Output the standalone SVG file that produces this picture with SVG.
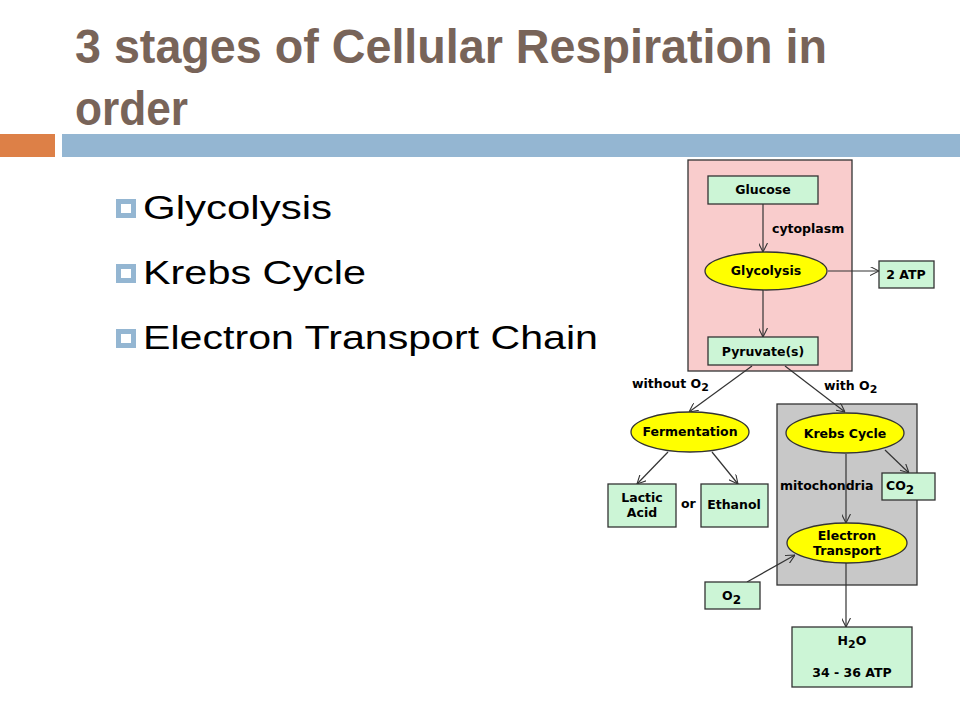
<svg xmlns="http://www.w3.org/2000/svg" width="960" height="720" viewBox="0 0 960 720">
<style>
.title{font-family:"Liberation Sans",Arial,sans-serif;font-weight:bold;font-size:49px;fill:#786459}
.bul{font-family:"Liberation Sans",Arial,sans-serif;font-size:33px;fill:#000}
.lbl{font-family:"DejaVu Sans","Liberation Sans",sans-serif;font-weight:bold;font-size:12.5px;fill:#000}
.box{fill:#ccf5d6;stroke:#333;stroke-width:1.3}
.ell{fill:#ffff00;stroke:#333;stroke-width:1.3}
.con{stroke:#333;stroke-width:1.2;fill:none}
</style>
<defs>
<marker id="v" viewBox="0 0 10 10" refX="10" refY="5" markerWidth="9" markerHeight="9" markerUnits="userSpaceOnUse" orient="auto">
<path d="M0,0 L10,5 L0,10" fill="none" stroke="#333" stroke-width="1.2"/>
</marker>
</defs>
<rect width="960" height="720" fill="#fff"/>
<g id="title">
<text class="title" x="75" y="63" textLength="752" lengthAdjust="spacingAndGlyphs">3 stages of Cellular Respiration in</text>
<text class="title" x="75" y="125" textLength="113" lengthAdjust="spacingAndGlyphs">order</text>
</g>
<g id="bars">
<rect x="0" y="134" width="55" height="23" fill="#dd8047"/>
<rect x="62" y="134" width="898" height="23" fill="#94b6d2"/>
</g>
<g id="bullets">
<rect x="116" y="199" width="20" height="19" fill="#94b6d2"/><rect x="121" y="204" width="10" height="9" fill="#fff"/>
<text class="bul" x="143" y="219" textLength="189" lengthAdjust="spacingAndGlyphs">Glycolysis</text>
<rect x="116" y="264" width="20" height="19" fill="#94b6d2"/><rect x="121" y="269" width="10" height="9" fill="#fff"/>
<text class="bul" x="143" y="284" textLength="223" lengthAdjust="spacingAndGlyphs">Krebs Cycle</text>
<rect x="116" y="329" width="20" height="19" fill="#94b6d2"/><rect x="121" y="334" width="10" height="9" fill="#fff"/>
<text class="bul" x="143" y="349" textLength="455" lengthAdjust="spacingAndGlyphs">Electron Transport Chain</text>
</g>
<g id="cytoplasm-region"><rect x="688" y="160" width="164" height="211" fill="#f9cccc" stroke="#333" stroke-width="1.3"/></g>
<g id="mitochondria-region"><rect x="777" y="404" width="140" height="181" fill="#c8c8c8" stroke="#333" stroke-width="1.3"/></g>
<g id="connectors">
<line class="con" x1="763" y1="204" x2="763" y2="252" marker-end="url(#v)"/>
<line class="con" x1="828" y1="271" x2="879" y2="271" marker-end="url(#v)"/>
<line class="con" x1="763" y1="290" x2="763" y2="337" marker-end="url(#v)"/>
<line class="con" x1="752" y1="366" x2="689" y2="412" marker-end="url(#v)"/>
<line class="con" x1="785" y1="366" x2="845" y2="412" marker-end="url(#v)"/>
<line class="con" x1="668" y1="452" x2="637" y2="484" marker-end="url(#v)"/>
<line class="con" x1="712" y1="452" x2="738" y2="484" marker-end="url(#v)"/>
<line class="con" x1="885" y1="450" x2="909" y2="473" marker-end="url(#v)"/>
<line class="con" x1="846" y1="454" x2="846" y2="523" marker-end="url(#v)"/>
<line class="con" x1="747" y1="582" x2="795" y2="555" marker-end="url(#v)"/>
<line class="con" x1="846" y1="563" x2="846" y2="627" marker-end="url(#v)"/>
</g>
<g id="labels">
<text class="lbl" x="772" y="233">cytoplasm</text>
<text class="lbl" x="632" y="388">without O<tspan font-size="11" dy="3">2</tspan></text>
<text class="lbl" x="824" y="390">with O<tspan font-size="11" dy="3">2</tspan></text>
<text class="lbl" x="780" y="490">mitochondria</text>
<text class="lbl" x="681" y="508">or</text>
</g>
<g id="glucose"><rect class="box" x="708" y="176" width="110" height="28"/><text class="lbl" x="763" y="194" text-anchor="middle">Glucose</text></g>
<g id="glycolysis"><ellipse class="ell" cx="766" cy="271" rx="61" ry="19"/><text class="lbl" x="766" y="275" text-anchor="middle">Glycolysis</text></g>
<g id="atp2"><rect class="box" x="879" y="261" width="55" height="27"/><text class="lbl" x="906" y="279" text-anchor="middle">2 ATP</text></g>
<g id="pyruvate"><rect class="box" x="708" y="337" width="110" height="28"/><text class="lbl" x="763" y="356" text-anchor="middle">Pyruvate(s)</text></g>
<g id="fermentation"><ellipse class="ell" cx="690" cy="432" rx="59" ry="20"/><text class="lbl" x="690" y="436" text-anchor="middle">Fermentation</text></g>
<g id="krebs"><ellipse class="ell" cx="845" cy="433" rx="59" ry="20"/><text class="lbl" x="845" y="438" text-anchor="middle">Krebs Cycle</text></g>
<g id="lactic"><rect class="box" x="608" y="484" width="68" height="43"/><text class="lbl" x="642" y="502" text-anchor="middle">Lactic</text><text class="lbl" x="642" y="517" text-anchor="middle">Acid</text></g>
<g id="ethanol"><rect class="box" x="701" y="484" width="67" height="43"/><text class="lbl" x="734" y="509" text-anchor="middle">Ethanol</text></g>
<g id="co2"><rect class="box" x="882" y="473" width="53" height="27"/><text class="lbl" x="886" y="490" font-size="14">CO<tspan font-size="12" dy="4">2</tspan></text></g>
<g id="electron"><ellipse class="ell" cx="847" cy="543" rx="60" ry="20"/><text class="lbl" x="847" y="540" text-anchor="middle">Electron</text><text class="lbl" x="847" y="555" text-anchor="middle">Transport</text></g>
<g id="o2"><rect class="box" x="705" y="582" width="55" height="27"/><text class="lbl" x="722" y="600" font-size="14">O<tspan font-size="12" dy="4">2</tspan></text></g>
<g id="h2o"><rect class="box" x="792" y="627" width="120" height="60"/><text class="lbl" x="852" y="645" text-anchor="middle" font-size="14">H<tspan font-size="11" dy="3">2</tspan><tspan dy="-3">O</tspan></text><text class="lbl" x="852" y="677" text-anchor="middle" font-size="14">34 - 36 ATP</text></g>
</svg>
